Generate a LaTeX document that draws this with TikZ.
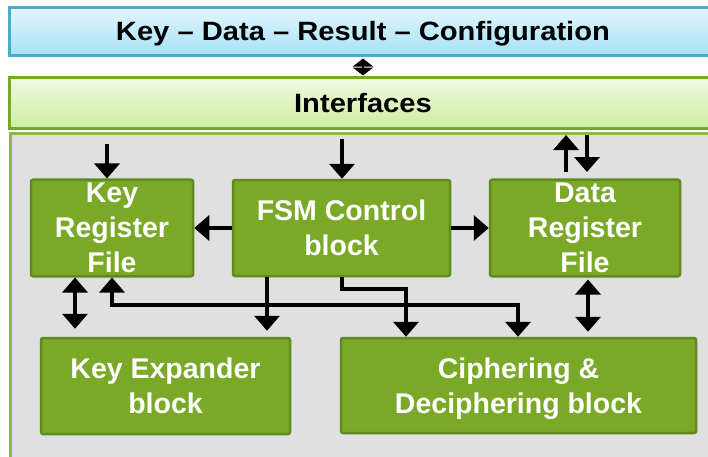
\documentclass[tikz,border=0pt]{standalone}
\usepackage{fontspec}
\setmainfont{Liberation Sans}
\newfontfamily\hdrfont[FakeStretch=1.1,Ligatures=TeX]{Liberation Sans}
\usetikzlibrary{arrows.meta,calc}
\definecolor{gfill}{RGB}{122,168,39}
\definecolor{gline}{RGB}{94,138,30}
\definecolor{hdrtop}{RGB}{227,246,253}
\definecolor{hdrbot}{RGB}{165,226,247}
\definecolor{hdrline}{RGB}{75,172,198}
\definecolor{iftop}{RGB}{240,249,226}
\definecolor{ifbot}{RGB}{205,239,160}
\definecolor{ifline}{RGB}{119,169,40}
\definecolor{panelfill}{RGB}{224,224,224}
\definecolor{panelline}{RGB}{141,186,63}
\begin{document}
\begin{tikzpicture}[x=1pt,y=-1pt,
  gbox/.style={draw=gline, fill=gfill, line width=2.5pt, rounded corners=2pt,
    text=white, align=center, font=\fontsize{28.5}{35}\selectfont\bfseries},
  hdrbox/.style={line width=3pt, align=center, text depth=0pt,
    font=\hdrfont\fontsize{26.5}{30}\selectfont\bfseries},
  arr/.style={line width=3.5pt, -{Triangle[width=25pt,length=15pt]}},
  darr/.style={line width=3.5pt, {Triangle[width=25pt,length=15pt]}-{Triangle[width=25pt,length=15pt]}},
  sarr/.style={line width=2pt, {Triangle[width=20pt,length=8pt]}-{Triangle[width=20pt,length=8pt]}}]
\useasboundingbox (0,0) rectangle (708,456);
\clip (0,0) rectangle (708,456);
\fill[white] (0,0) rectangle (708,456);

% background layers
\node[hdrbox, draw=hdrline, top color=hdrtop, bottom color=hdrbot,
  minimum width=708pt, minimum height=48pt] (top) at (363,31) {Key – Data – Result – Configuration};
\node[hdrbox, draw=ifline, top color=iftop, bottom color=ifbot,
  minimum width=708pt, minimum height=51pt] (intf) at (363,102.5) {Interfaces};
\node[draw=panelline, fill=panelfill, line width=3pt, minimum width=707pt,
  minimum height=337pt] (panel) at (363.5,301.5) {};

% blocks
\node[gbox, minimum width=162pt, minimum height=96pt] (key) at (112,228) {Key\\Register\\File};
\node[gbox, minimum width=217pt, minimum height=96pt] (fsm) at (341.5,228) {FSM Control\\block};
\node[gbox, minimum width=190pt, minimum height=96pt] (data) at (585,228) {Data\\Register\\File};
\node[gbox, minimum width=249pt, minimum height=96pt] (kexp) at (165.5,386) {Key Expander\\block};
\node[gbox, minimum width=355pt, minimum height=95pt, text depth=0pt] (ciph) at (518.5,385.5) {Ciphering \&\\Deciphering block};

% free ends and bends
\coordinate (kin) at (107,144);
\coordinate (fin) at (342,139);
\coordinate (dupt) at (566,135);
\coordinate (dupb) at (566,172);
\coordinate (ddnt) at (587,135);
\coordinate (ddnb) at (587,172);
\coordinate (kc) at (75,300);
\coordinate (fk) at (267,300);
\coordinate (rt) at (518,305);
\coordinate (fc) at (406,289);
\coordinate (dc) at (588,300);

% connectors
\draw[sarr] ([yshift=-2pt]top.south) -- (intf.north);
\draw[arr] (kin) -- (kin |- key.north);
\draw[arr] (fin) -- (fin |- fsm.north);
\draw[arr] (fsm.west) -- (key.east);
\draw[arr] (fsm.east) -- (data.west);
\draw[arr] (dupb) -- (dupt);
\draw[arr] (ddnt) -- (ddnb);
\draw[darr] (key.south -| kc) -- ([yshift=8pt]kexp.north -| kc);
\draw[darr] (key.south) |- (rt) -- (rt |- ciph.north);
\draw[arr] (fsm.south -| fk) -- ([yshift=6pt]kexp.north -| fk);
\draw[arr] (fsm.south -| fin) |- (fc) -- (fc |- ciph.north);
\draw[darr] ([yshift=-2pt]data.south -| dc) -- ([yshift=5pt]ciph.north -| dc);
\end{tikzpicture}
\end{document}
